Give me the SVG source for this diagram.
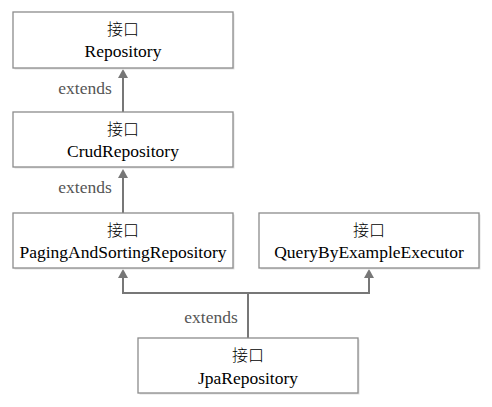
<svg xmlns="http://www.w3.org/2000/svg" width="492" height="407" viewBox="0 0 492 407">
<style>
.box{fill:#fff;stroke:#8c8c8c;stroke-width:1.3}
.shadow{fill:#e2e2e2}
.t{font-family:'Liberation Serif',serif;font-size:17.5px;fill:#000;text-anchor:middle}
.cn{font-family:'Noto Sans CJK SC',sans-serif;font-size:16px;font-weight:300;fill:#000;text-anchor:middle}
.lbl{font-family:'Liberation Serif',serif;font-size:17.5px;fill:#555;text-anchor:middle}
.c{fill:none;stroke:#777;stroke-width:2}
</style>
<defs>
<marker id="arr" markerWidth="10" markerHeight="10" refX="5" refY="5" orient="auto" markerUnits="userSpaceOnUse" viewBox="0 0 10 10">
<path d="M0,9 L5,0 L10,9 Z" fill="#777" transform="rotate(90 5 5)"/>
</marker>
</defs>
<rect width="492" height="407" fill="#fff"/>
<g id="connectors">
<line class="c" x1="123" y1="112" x2="123" y2="74" marker-end="url(#arr)"/>
<line class="c" x1="123" y1="213" x2="123" y2="174" marker-end="url(#arr)"/>
<polyline class="c" points="248,338 248,293 123,293 123,274" marker-end="url(#arr)"/>
<polyline class="c" points="248,293 369,293 369,274" marker-end="url(#arr)"/>
<text class="lbl" x="85" y="94">extends</text>
<text class="lbl" x="85" y="193">extends</text>
<text class="lbl" x="211" y="323">extends</text>
</g>
<g id="Repository">
<rect class="shadow" x="14.5" y="13.5" width="220" height="56"/>
<rect class="box" x="13" y="12" width="220" height="56"/>
<text class="cn" x="123" y="35">接口</text>
<text class="t" x="123" y="57">Repository</text>
</g>
<g id="CrudRepository">
<rect class="shadow" x="14.5" y="113.5" width="220" height="55"/>
<rect class="box" x="13" y="112" width="220" height="55"/>
<text class="cn" x="123" y="135">接口</text>
<text class="t" x="123" y="157">CrudRepository</text>
</g>
<g id="PagingAndSortingRepository">
<rect class="shadow" x="14.5" y="214.5" width="220" height="55"/>
<rect class="box" x="13" y="213" width="220" height="55"/>
<text class="cn" x="123" y="236">接口</text>
<text class="t" x="123" y="258">PagingAndSortingRepository</text>
</g>
<g id="QueryByExampleExecutor">
<rect class="shadow" x="260.5" y="214.5" width="220" height="55"/>
<rect class="box" x="259" y="213" width="220" height="55"/>
<text class="cn" x="369" y="236">接口</text>
<text class="t" x="369" y="258">QueryByExampleExecutor</text>
</g>
<g id="JpaRepository">
<rect class="shadow" x="139.5" y="339.5" width="220" height="55"/>
<rect class="box" x="138" y="338" width="220" height="55"/>
<text class="cn" x="248" y="361">接口</text>
<text class="t" x="248" y="384">JpaRepository</text>
</g>
</svg>
